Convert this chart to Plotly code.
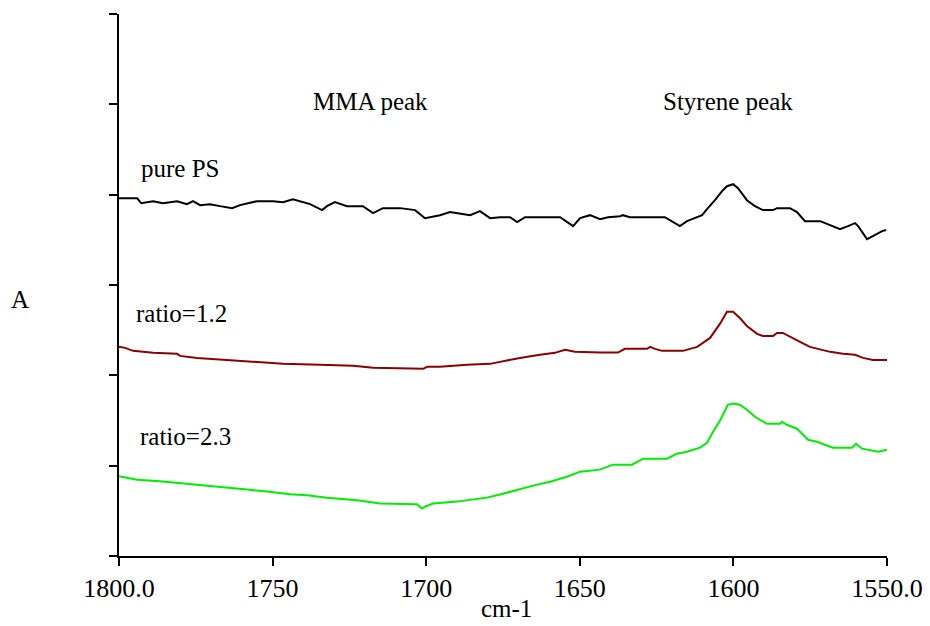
import plotly.graph_objects as go

# Wavenumbers (cm-1) and absorbance (offset, arbitrary units)
ps_x = [1800, 1794.1, 1792.8, 1788.9, 1785.7, 1781.1, 1777.9, 1775.9, 1773.6, 1770.4, 1767.1,
        1763.2, 1760.6, 1755.1, 1749.9, 1746.6, 1743.4, 1741.1, 1737.8, 1733.9, 1732.3, 1729.7,
        1725.8, 1720.6, 1717.3, 1714.1, 1708.5, 1703.6, 1700.4, 1695.5, 1692.3, 1685.7, 1682.5,
        1679.2, 1676.0, 1672.7, 1670.4, 1667.8, 1656.4, 1652.2, 1649.9, 1646.7, 1643.4, 1640.8,
        1636.9, 1636.0, 1633.7, 1622.3, 1620.6, 1617.4, 1615.1, 1611.8, 1610.2, 1608.6, 1606.0,
        1603.7, 1602.1, 1600.1, 1598.5, 1595.6, 1593.0, 1590.4, 1587.1, 1585.8, 1581.6, 1579.3,
        1576.7, 1571.7, 1568.5, 1565.3, 1562.7, 1560.4, 1559.4, 1556.5, 1554.6, 1551.6, 1550.3]
ps_y = [3.961, 3.961, 3.906, 3.928, 3.906, 3.928, 3.895, 3.928, 3.884, 3.895, 3.873,
        3.851, 3.884, 3.928, 3.928, 3.917, 3.950, 3.928, 3.895, 3.829, 3.873, 3.917,
        3.873, 3.873, 3.796, 3.851, 3.851, 3.829, 3.740, 3.773, 3.807, 3.773, 3.818,
        3.740, 3.751, 3.751, 3.696, 3.751, 3.751, 3.652, 3.740, 3.773, 3.729, 3.751,
        3.762, 3.773, 3.751, 3.751, 3.718, 3.652, 3.707, 3.751, 3.773, 3.840, 3.939,
        4.039, 4.094, 4.116, 4.072, 3.939, 3.873, 3.829, 3.829, 3.851, 3.851, 3.807,
        3.707, 3.707, 3.663, 3.619, 3.652, 3.685, 3.652, 3.508, 3.541, 3.597, 3.608]

r12_x = [1800, 1798.0, 1795.4, 1788.9, 1781.1, 1780.1, 1774.6, 1766.1, 1757.4, 1746.6, 1734.6,
         1723.8, 1717.3, 1706.3, 1701.0, 1699.7, 1695.5, 1686.7, 1679.2, 1676.0, 1669.5, 1663.0,
         1658.1, 1654.8, 1651.6, 1643.4, 1637.6, 1635.3, 1628.1, 1627.1, 1625.5, 1623.2, 1616.4,
         1614.1, 1611.8, 1607.6, 1604.4, 1602.1, 1600.1, 1597.9, 1595.6, 1592.3, 1590.4, 1587.1,
         1585.8, 1583.9, 1581.6, 1578.3, 1575.1, 1571.1, 1568.5, 1564.3, 1560.4, 1557.8, 1554.6,
         1550.0]
r12_y = [2.318, 2.304, 2.271, 2.249, 2.238, 2.215, 2.193, 2.171, 2.149, 2.127, 2.116,
         2.105, 2.083, 2.072, 2.072, 2.094, 2.094, 2.116, 2.127, 2.149, 2.193, 2.227,
         2.249, 2.282, 2.260, 2.252, 2.252, 2.293, 2.293, 2.315, 2.293, 2.271, 2.271,
         2.293, 2.315, 2.414, 2.569, 2.705, 2.705, 2.635, 2.547, 2.459, 2.436, 2.436,
         2.470, 2.470, 2.425, 2.370, 2.315, 2.282, 2.260, 2.238, 2.227, 2.193, 2.171,
         2.171]

r23_x = [1800, 1798.0, 1794.1, 1786.7, 1777.9, 1771.4, 1765.5, 1758.3, 1751.8, 1744.3, 1738.8,
         1732.3, 1722.5, 1715.0, 1703.0, 1701.4, 1700.4, 1697.8, 1690.0, 1684.8, 1680.2, 1676.0,
         1670.4, 1665.2, 1659.7, 1654.2, 1649.9, 1643.4, 1639.2, 1633.0, 1629.4, 1621.6, 1618.4,
         1615.1, 1610.9, 1608.6, 1606.6, 1604.4, 1601.8, 1600.1, 1597.9, 1595.6, 1593.0, 1590.4,
         1589.1, 1584.8, 1584.2, 1582.6, 1579.3, 1577.3, 1575.7, 1572.8, 1568.5, 1567.6, 1561.4,
         1560.1, 1558.1, 1556.2, 1552.9, 1550.0]
r23_y = [0.882, 0.867, 0.845, 0.827, 0.801, 0.782, 0.757, 0.735, 0.713, 0.683, 0.672,
         0.646, 0.617, 0.580, 0.572, 0.525, 0.547, 0.580, 0.602, 0.624, 0.646, 0.680,
         0.735, 0.779, 0.823, 0.878, 0.934, 0.956, 1.011, 1.011, 1.077, 1.077, 1.133,
         1.155, 1.199, 1.254, 1.376, 1.497, 1.674, 1.688, 1.674, 1.619, 1.541, 1.486,
         1.464, 1.464, 1.486, 1.453, 1.409, 1.343, 1.287, 1.265, 1.210, 1.199, 1.199,
         1.243, 1.188, 1.177, 1.155, 1.177]

x_tickvals = [1800, 1750, 1700, 1650, 1600, 1550]
x_ticktext = ["1800.0", "1750", "1700", "1650", "1600", "1550.0"]
y_tickvals = [0, 1, 2, 3, 4, 5, 6]

FONT = "Liberation Serif, Times New Roman, DejaVu Serif, serif"

fig = go.Figure()
fig.add_trace(go.Scatter(x=ps_x, y=ps_y, mode="lines", line=dict(color="#000000", width=2),
                         name="pure PS", showlegend=False))
fig.add_trace(go.Scatter(x=r12_x, y=r12_y, mode="lines", line=dict(color="#8b0000", width=2),
                         name="ratio=1.2", showlegend=False))
fig.add_trace(go.Scatter(x=r23_x, y=r23_y, mode="lines", line=dict(color="#00ee00", width=2),
                         name="ratio=2.3", showlegend=False))

labels = [
    ("pure PS", 1780.1, 4.29),
    ("ratio=1.2", 1779.5, 2.69),
    ("ratio=2.3", 1778.2, 1.32),
    ("MMA peak", 1718.0, 5.03),
    ("Styrene peak", 1601.8, 5.03),
]
for txt, lx, ly in labels:
    fig.add_annotation(x=lx, y=ly, xref="x", yref="y", text=txt, showarrow=False,
                       xanchor="center", yanchor="middle",
                       font=dict(family=FONT, size=25, color="black"))

fig.add_annotation(x=-0.129, y=2.845, xref="paper", yref="y", text="A", showarrow=False,
                   xanchor="center", yanchor="middle",
                   font=dict(family=FONT, size=25, color="black"))
fig.add_annotation(x=0.504, y=-0.097, xref="paper", yref="paper", text="cm-1", showarrow=False,
                   xanchor="center", yanchor="middle",
                   font=dict(family=FONT, size=25, color="black"))

fig.update_layout(
    width=930, height=626,
    margin=dict(l=119, r=43, t=14, b=70, autoexpand=False),
    paper_bgcolor="white", plot_bgcolor="white",
    font=dict(family=FONT, color="black"),
    xaxis=dict(range=[1800, 1550], tickvals=x_tickvals, ticktext=x_ticktext,
               showline=True, linecolor="black", linewidth=2,
               ticks="outside", ticklen=8, tickwidth=2, tickcolor="black",
               showgrid=False, zeroline=False, automargin=False,
               tickfont=dict(family=FONT, size=26, color="black")),
    yaxis=dict(range=[0, 6], tickvals=y_tickvals, showticklabels=False,
               showline=True, linecolor="black", linewidth=2,
               ticks="outside", ticklen=8, tickwidth=2, tickcolor="black",
               showgrid=False, zeroline=False, automargin=False),
)

fig.write_html("out.html")
